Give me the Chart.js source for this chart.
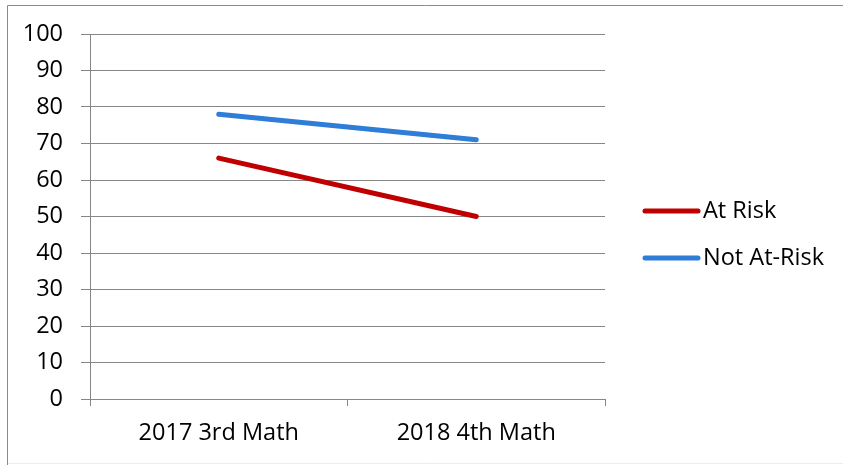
<!DOCTYPE html>
<html>
<head>
<meta charset="utf-8">
<script src="https://cdn.jsdelivr.net/npm/chart.js@4/dist/chart.umd.min.js"></script>
<style>
  html, body { margin: 0; padding: 0; background: #fff; }
  #wrap { width: 843px; height: 465px; position: relative; }
</style>
</head>
<body>
<div id="wrap"><canvas id="c" width="843" height="465"></canvas></div>
<script>
// Math scores by test, two student groups
const categories = ['2017 3rd Math', '2018 4th Math'];
const atRisk = [66, 50];
const notAtRisk = [78, 71];
const seriesNames = ['At Risk', 'Not At-Risk'];
const seriesColors = ['#C00000', '#2E7DD6'];

const FONT = '"Open Sans", Lato, sans-serif';
const FONT_SIZE = 23.5;
const GRID = '#878787';

// Frame around the chart (left and top edges, faint bottom edge)
const framePlugin = {
  id: 'frame',
  beforeDraw(chart) {
    const ctx = chart.ctx;
    ctx.save();
    ctx.fillStyle = '#fff';
    ctx.fillRect(0, 0, chart.width, chart.height);
    ctx.strokeStyle = '#8a8a8a';
    ctx.lineWidth = 1;
    ctx.beginPath();
    ctx.moveTo(7.5, chart.height);
    ctx.lineTo(7.5, 5.5);
    ctx.lineTo(chart.width, 5.5);
    ctx.stroke();
    ctx.strokeStyle = '#ececec';
    ctx.beginPath();
    ctx.moveTo(8, 463.5);
    ctx.lineTo(chart.width, 463.5);
    ctx.stroke();
    ctx.restore();
  }
};

// Legend on the right: line swatch followed by the series name
const sideLegend = {
  id: 'sideLegend',
  afterDraw(chart) {
    const ctx = chart.ctx;
    ctx.save();
    ctx.font = FONT_SIZE + 'px ' + FONT;
    ctx.textBaseline = 'middle';
    ctx.textAlign = 'left';
    chart.data.datasets.forEach((ds, i) => {
      const y = 211 + i * 47;
      ctx.strokeStyle = ds.borderColor;
      ctx.lineWidth = 5;
      ctx.lineCap = 'round';
      ctx.beginPath();
      ctx.moveTo(645, y);
      ctx.lineTo(698, y);
      ctx.stroke();
      ctx.fillStyle = '#000';
      ctx.fillText(ds.label, 703, y);
    });
    ctx.restore();
  }
};

new Chart(document.getElementById('c'), {
  type: 'line',
  data: {
    labels: categories,
    datasets: [
      { label: seriesNames[0], data: atRisk, borderColor: seriesColors[0], backgroundColor: seriesColors[0] },
      { label: seriesNames[1], data: notAtRisk, borderColor: seriesColors[1], backgroundColor: seriesColors[1] }
    ]
  },
  options: {
    responsive: false,
    animation: false,
    devicePixelRatio: 1,
    layout: { padding: { top: 34, right: 238, left: 0, bottom: 0 } },
    elements: {
      line: { borderWidth: 5, tension: 0, borderCapStyle: 'round', borderJoinStyle: 'round' },
      point: { radius: 0, hoverRadius: 0 }
    },
    plugins: {
      legend: { display: false },
      tooltip: { enabled: false }
    },
    scales: {
      x: {
        offset: true,
        grid: {
          offset: true,
          drawOnChartArea: false,
          drawTicks: true,
          tickLength: 7,
          color: GRID,
          lineWidth: 1
        },
        border: { display: true, color: GRID, width: 1 },
        ticks: { color: '#000', font: { family: FONT, size: FONT_SIZE }, padding: 13, maxRotation: 0 },
        afterFit(scale) { scale.height = 66; }
      },
      y: {
        min: 0,
        max: 100,
        ticks: { stepSize: 10, color: '#000', font: { family: FONT, size: FONT_SIZE }, padding: 18 },
        grid: { color: GRID, lineWidth: 1, tickLength: 9, drawTicks: true },
        border: { display: true, color: GRID, width: 1 },
        afterFit(scale) { scale.width = 90; }
      }
    }
  },
  plugins: [framePlugin, sideLegend]
});
</script>
</body>
</html>
